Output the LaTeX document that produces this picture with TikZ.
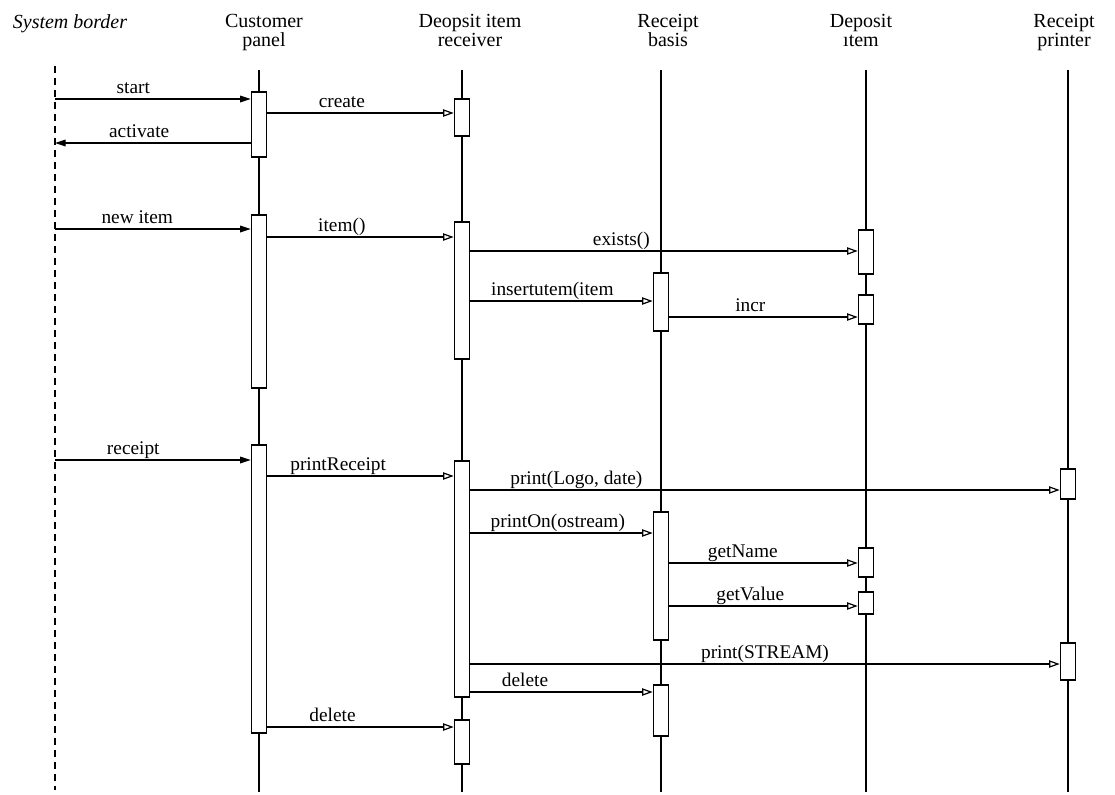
\documentclass[tikz,border=0pt]{standalone}
\usepackage{fontspec}
\setmainfont{Liberation Serif}
\usetikzlibrary{arrows.meta}

\tikzset{
  lifeline/.style={line width=0.9pt},
  sysborder/.style={line width=1.1pt, dash pattern=on 5pt off 4pt},
  actbar/.style={draw, line width=0.9pt, fill=white, minimum width=11.5pt, inner sep=0pt},
  msg/.style={line width=0.9pt, -{Triangle[open, length=8pt, width=5.5pt]}},
  ext/.style={line width=0.9pt, -{Triangle[length=8pt, width=5pt]}},
  lbl/.style={anchor=base, inner sep=0pt, yshift=4.5pt, font=\fontsize{14.5}{14.5}\selectfont},
  head/.style={align=center, anchor=north, inner sep=0pt, font=\fontsize{15}{14}\selectfont}
}

% activation bar: name, x, top, bottom (pixel units)
\newcommand{\actbar}[4]{%
  \node[actbar, minimum height={(#4-#3)*0.75pt}] (#1) at (#2,{(#3+#4)/2}) {};}
% message: [style] from, to, y, label position, label
\newcommand{\msg}[6][msg]{%
  \draw[#1] (#2 |- 0,#4) -- node[lbl, pos=#5] {#6} (#3 |- 0,#4);}

\begin{document}
\begin{tikzpicture}[x=0.75pt, y=-0.75pt]
  \useasboundingbox (0,0) rectangle (1115,794);

  % Headers
  \node[head] (sb) at (70,14) {\itshape System border};
  \node[head] (cp) at (264,14) {Customer\\panel};
  \node[head] (dr) at (470,14) {Deopsit item\\receiver};
  \node[head] (rb) at (668,14) {Receipt\\basis};
  \node[head] (di) at (861,14) {Deposit\\ıtem};
  \node[head] (rp) at (1064,14) {Receipt\\printer};

  % Lifelines
  \coordinate (border) at (55,66);
  \coordinate (borderEnd) at (55,790);
  \coordinate (cpTop) at (259,70);
  \coordinate (cpBot) at (259,792);
  \coordinate (drTop) at (462,70);
  \coordinate (drBot) at (462,792);
  \coordinate (rbTop) at (661,70);
  \coordinate (rbBot) at (661,792);
  \coordinate (diTop) at (866,70);
  \coordinate (diBot) at (866,792);
  \coordinate (rpTop) at (1068,70);
  \coordinate (rpBot) at (1068,792);

  \draw[sysborder] (border) -- (borderEnd);
  \draw[lifeline] (cpTop) -- (cpBot);
  \draw[lifeline] (drTop) -- (drBot);
  \draw[lifeline] (rbTop) -- (rbBot);
  \draw[lifeline] (diTop) -- (diBot);
  \draw[lifeline] (rpTop) -- (rpBot);

  % Activation bars
  \actbar{a1}{259}{92}{157}
  \actbar{a2}{259}{215}{388}
  \actbar{a3}{259}{445}{733}
  \actbar{b1}{462}{99}{136}
  \actbar{b2}{462}{222}{359}
  \actbar{b3}{462}{461}{697}
  \actbar{b4}{462}{720}{764}
  \actbar{c1}{661}{273}{331}
  \actbar{c2}{661}{512}{640}
  \actbar{c3}{661}{685}{736}
  \actbar{d1}{866}{230}{274}
  \actbar{d2}{866}{295}{324}
  \actbar{d3}{866}{548}{577}
  \actbar{d4}{866}{592}{614}
  \actbar{p1}{1068}{469}{499}
  \actbar{p2}{1068}{643}{680}

  % Messages
  \msg[ext]{border}{a1.west}{99}{0.40}{start}
  \msg{a1.east}{b1.west}{113}{0.40}{create}
  \msg[ext]{a1.west}{border}{143}{0.57}{activate}
  \msg[ext]{border}{a2.west}{229}{0.42}{new item}
  \msg{a2.east}{b2.west}{237}{0.40}{item()}
  \msg{b2.east}{d1.west}{251}{0.39}{exists()}
  \msg{b2.east}{c1.west}{301}{0.45}{insertutem(item}
  \msg{c1.east}{d2.west}{317}{0.43}{incr}
  \msg[ext]{border}{a3.west}{460}{0.40}{receipt}
  \msg{a3.east}{b3.west}{476}{0.38}{printReceipt}
  \msg{b3.east}{p1.west}{490}{0.18}{print(Logo, date)}
  \msg{b3.east}{c2.west}{533}{0.48}{printOn(ostream)}
  \msg{c2.east}{d3.west}{563}{0.39}{getName}
  \msg{c2.east}{d4.west}{606}{0.43}{getValue}
  \msg{b3.east}{p2.west}{664}{0.50}{print(STREAM)}
  \msg{b3.east}{c3.west}{692}{0.30}{delete}
  \msg{a3.east}{b4.west}{727}{0.35}{delete}
\end{tikzpicture}
\end{document}
